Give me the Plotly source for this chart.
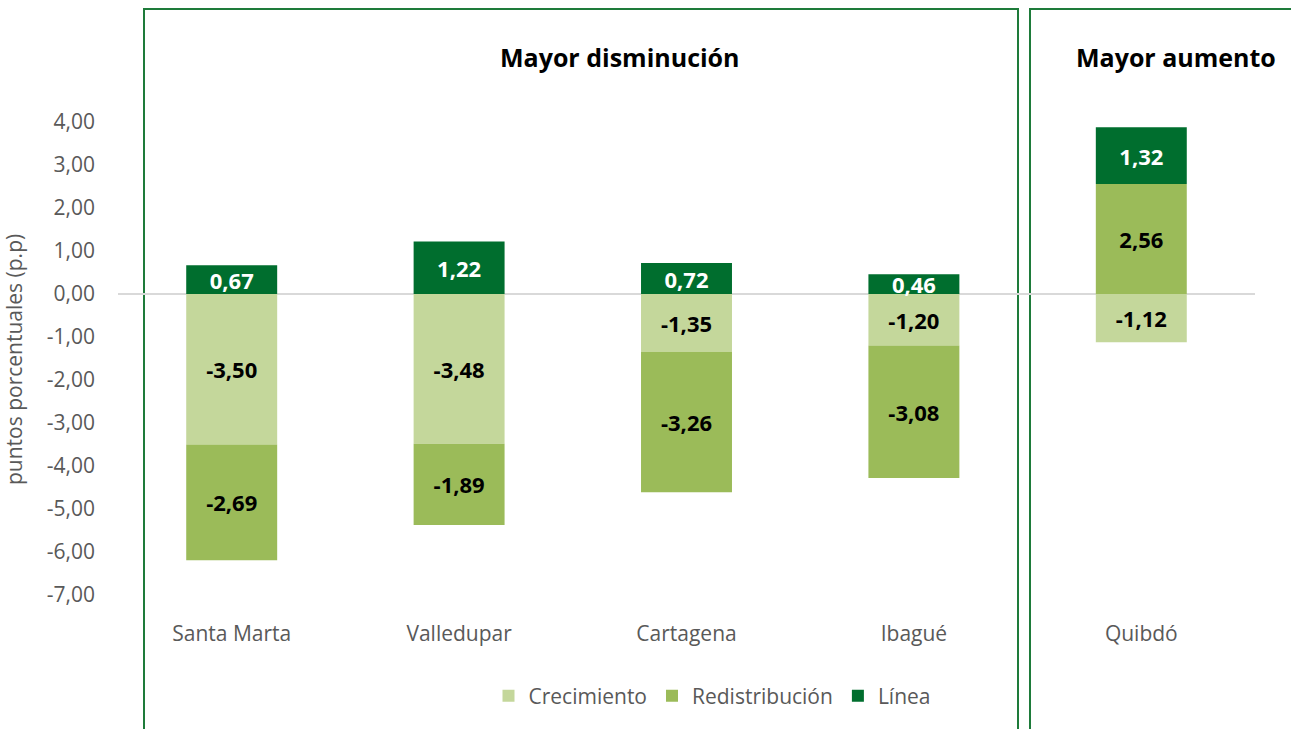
import plotly.graph_objects as go

categories = ["Santa Marta", "Valledupar", "Cartagena", "Ibagué", "Quibdó"]
crecimiento = [-3.50, -3.48, -1.35, -1.20, -1.12]
redistribucion = [-2.69, -1.89, -3.26, -3.08, 2.56]
linea = [0.67, 1.22, 0.72, 0.46, 1.32]
tick_vals = [4, 3, 2, 1, 0, -1, -2, -3, -4, -5, -6, -7]
tick_labels = ["4,00", "3,00", "2,00", "1,00", "0,00", "-1,00", "-2,00", "-3,00",
               "-4,00", "-5,00", "-6,00", "-7,00"]
group_titles = ["Mayor disminución", "Mayor aumento"]

FONT = "Open Sans, Noto Sans, sans-serif"
W, H = 1291, 729
L, R, T, B = 118, 36, 122, 134
PW, PH = W - L - R, H - T - B


def px(x):
    return (x - L) / PW


def py(y):
    return (H - B - y) / PH


def fmt(v):
    return f"{v:.2f}".replace(".", ",")


fig = go.Figure()
series = [
    ("Crecimiento", crecimiento, "#c4d79b", "black"),
    ("Redistribución", redistribucion, "#9bbb59", "black"),
    ("Línea", linea, "#006e2e", "white"),
]
for name, vals, color, tcolor in series:
    fig.add_trace(go.Bar(
        x=categories, y=vals, name=name,
        marker=dict(color=color, line=dict(width=0)),
        text=[fmt(v) for v in vals], textposition="inside",
        insidetextanchor="middle", constraintext="none",
        textfont=dict(family=FONT, size=22, color=tcolor, weight="bold"),
        hoverinfo="skip",
    ))

shapes = [
    dict(type="rect", xref="paper", yref="paper", x0=px(144), x1=px(1018),
         y0=py(745), y1=py(9), line=dict(color="#1e7b3a", width=2), layer="below"),
    dict(type="rect", xref="paper", yref="paper", x0=px(1030), x1=px(1310),
         y0=py(745), y1=py(9), line=dict(color="#1e7b3a", width=2), layer="below"),
]

annotations = [
    dict(text=group_titles[0], xref="paper", yref="paper", x=px(620), y=py(57),
         showarrow=False, xanchor="center", yanchor="middle",
         font=dict(family=FONT, size=25, color="black", weight="bold")),
    dict(text=group_titles[1], xref="paper", yref="paper", x=px(1176), y=py(57),
         showarrow=False, xanchor="center", yanchor="middle",
         font=dict(family=FONT, size=25, color="black", weight="bold")),
    dict(text="puntos porcentuales (p.p)", xref="paper", yref="paper",
         x=px(14), y=py(360), textangle=-90, showarrow=False,
         xanchor="center", yanchor="middle",
         font=dict(family=FONT, size=21, color="#595959")),
]

fig.update_layout(
    width=W, height=H,
    margin=dict(l=L, r=R, t=T, b=B, autoexpand=False),
    barmode="relative", bargap=0.6,
    plot_bgcolor="white", paper_bgcolor="white",
    font=dict(family=FONT, size=21, color="#595959"),
    shapes=shapes, annotations=annotations,
    legend=dict(orientation="h", x=px(712), y=py(696), xanchor="center",
                yanchor="middle", font=dict(size=21, color="#595959"),
                traceorder="normal", itemwidth=30),
    xaxis=dict(showgrid=False, showline=False, ticks="", ticklabelstandoff=24,
               tickfont=dict(size=21, color="#595959")),
    yaxis=dict(range=[-7, 4], tickvals=tick_vals, ticktext=tick_labels,
               showgrid=False, zeroline=True, zerolinecolor="#d9d9d9",
               zerolinewidth=2, showline=False, ticks="", ticklabelstandoff=22,
               tickfont=dict(size=21, color="#595959")),
)

fig.write_html("out.html", config={"displayModeBar": False},
               post_script="document.body.style.margin='0';")
